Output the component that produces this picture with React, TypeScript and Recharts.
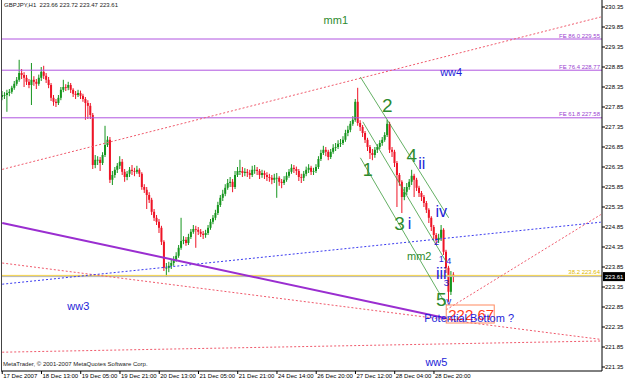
import React from "react";
import { ComposedChart, Bar, XAxis, YAxis, ReferenceLine, ReferenceDot } from "recharts";

// GBPJPY H1, 17-28 Dec 2007
const timeLabels = [
  "17 Dec 2007", "18 Dec 13:00", "19 Dec 05:00", "19 Dec 21:00", "20 Dec 13:00", "21 Dec 05:00",
  "21 Dec 21:00", "24 Dec 14:00", "26 Dec 20:00", "27 Dec 12:00", "28 Dec 04:00", "28 Dec 20:00",
];
const priceTicks = [
  221.35, 221.85, 222.35, 222.85, 223.35, 223.85, 224.35, 224.85, 225.35, 225.85,
  226.35, 226.85, 227.35, 227.85, 228.35, 228.85, 229.35, 229.85, 230.35,
];

const opens = [
  228.10, 228.15, 228.15, 228.20, 228.23, 228.33, 228.43, 228.53, 228.70, 228.65,
  228.58, 228.48, 228.40, 228.53, 228.48, 228.43, 228.58, 228.73, 228.63, 228.53,
  228.40, 228.08, 227.98, 227.95, 228.08, 228.28, 228.35, 228.33, 228.40, 228.28,
  228.18, 228.15, 228.20, 228.13, 228.05, 227.95, 227.88, 227.65, 226.40, 226.53,
  226.53, 226.45, 226.65, 226.90, 227.03, 226.03, 226.15, 226.28, 226.38, 226.48,
  226.23, 226.10, 226.18, 226.28, 226.25, 226.23, 226.28, 226.18, 225.85, 225.78,
  225.65, 225.53, 225.23, 225.08, 224.98, 224.83, 224.48, 223.83, 223.83, 223.88,
  223.95, 224.03, 224.13, 224.33, 224.50, 224.53, 224.45, 224.60, 224.73, 224.80,
  224.78, 224.73, 224.68, 224.65, 224.70, 224.83, 224.98, 225.08, 225.20, 225.40,
  225.58, 225.68, 225.83, 225.95, 225.98, 225.85, 226.15, 226.25, 226.25, 226.20,
  226.23, 226.20, 226.15, 226.28, 226.28, 226.25, 226.15, 226.20, 226.15, 226.10,
  226.08, 226.03, 226.08, 226.08, 225.98, 225.95, 226.03, 226.13, 226.23, 226.33,
  226.30, 226.25, 226.10, 226.08, 226.18, 226.28, 226.33, 226.23, 226.25, 226.35,
  226.55, 226.70, 226.78, 226.73, 226.60, 226.73, 226.83, 226.85, 226.93, 226.95,
  227.03, 227.20, 227.28, 227.43, 227.53, 227.98, 227.45, 227.35, 227.20, 227.03,
  226.85, 226.70, 226.65, 226.78, 226.85, 226.95, 227.03, 227.15, 227.43, 226.78,
  226.73, 226.45, 226.15, 225.98, 225.60, 225.73, 225.85, 225.98, 226.13, 226.03,
  225.83, 225.70, 225.60, 225.45, 225.28, 225.08, 224.85, 224.65, 224.53, 224.58,
  224.78, 224.23, 223.83, 223.23, 223.66,
];
const highs = [
  228.25, 228.22, 228.28, 228.30, 228.38, 228.50, 228.60, 229.03, 228.80, 228.72,
  228.65, 228.55, 228.95, 228.62, 228.55, 228.66, 228.85, 228.88, 228.70, 228.60,
  228.45, 228.15, 228.05, 228.15, 228.35, 228.53, 228.42, 228.48, 228.45, 228.32,
  228.25, 228.28, 228.26, 228.18, 228.10, 228.02, 227.95, 227.70, 226.65, 226.62,
  226.60, 226.72, 227.38, 227.12, 227.10, 226.25, 226.35, 226.45, 226.62, 226.55,
  226.30, 226.25, 226.35, 226.40, 226.33, 226.38, 226.32, 226.22, 225.92, 225.85,
  225.72, 225.58, 225.30, 225.15, 225.05, 224.88, 224.52, 223.95, 223.98, 224.05,
  224.12, 224.22, 224.40, 225.08, 224.62, 224.60, 224.68, 224.80, 224.90, 224.88,
  224.85, 224.80, 224.75, 224.78, 224.90, 225.05, 225.15, 225.28, 225.48, 225.65,
  225.78, 225.92, 226.05, 226.10, 226.05, 226.25, 226.35, 226.53, 226.35, 226.32,
  226.30, 226.28, 226.38, 226.40, 226.35, 226.30, 226.28, 226.26, 226.22, 226.18,
  226.15, 226.18, 226.20, 226.12, 226.05, 226.12, 226.22, 226.30, 226.42, 226.40,
  226.36, 226.30, 226.18, 226.25, 226.36, 226.42, 226.38, 226.33, 226.42, 226.62,
  226.78, 226.88, 226.85, 226.78, 226.80, 226.92, 226.95, 227.02, 227.05, 227.12,
  227.28, 227.38, 227.50, 227.62, 228.05, 228.33, 227.52, 227.40, 227.25, 227.08,
  226.90, 226.80, 226.85, 226.92, 227.02, 227.10, 227.22, 227.53, 227.48, 226.85,
  226.78, 226.50, 226.20, 226.02, 225.85, 225.95, 226.05, 226.28, 226.18, 226.08,
  225.88, 225.75, 225.65, 225.50, 225.32, 225.12, 224.90, 224.70, 224.68, 224.90,
  224.82, 224.28, 223.88, 223.75, 223.72,
];
const lows = [
  228.02, 228.05, 227.73, 228.12, 228.18, 228.28, 228.38, 228.48, 228.55, 228.35,
  228.40, 228.32, 227.90, 228.38, 228.30, 228.38, 228.50, 228.55, 228.45, 228.32,
  228.00, 227.88, 227.85, 227.90, 228.02, 228.22, 228.25, 228.27, 228.20, 228.10,
  228.05, 228.10, 228.05, 227.98, 227.53, 227.55, 227.55, 226.30, 226.32, 226.40,
  226.25, 226.40, 226.60, 226.85, 225.95, 225.90, 226.08, 226.20, 226.30, 226.15,
  225.98, 226.02, 226.10, 226.15, 226.12, 226.18, 226.10, 225.78, 225.70, 225.30,
  225.45, 225.15, 225.00, 224.90, 224.70, 224.40, 223.75, 223.60, 223.72, 223.80,
  223.88, 223.98, 224.08, 224.28, 224.42, 224.38, 224.40, 224.55, 224.68, 224.33,
  224.65, 224.60, 224.55, 224.58, 224.65, 224.78, 224.92, 225.02, 225.15, 225.35,
  225.50, 225.62, 225.78, 225.85, 225.72, 225.80, 226.10, 226.15, 226.10, 226.12,
  226.10, 226.05, 226.10, 226.18, 226.15, 226.05, 226.08, 226.05, 226.00, 225.98,
  225.92, 225.95, 225.58, 225.88, 225.82, 225.90, 225.98, 226.08, 226.18, 226.20,
  226.15, 226.00, 225.95, 226.00, 226.12, 226.20, 226.15, 226.15, 226.20, 226.30,
  226.50, 226.65, 226.62, 226.52, 226.55, 226.68, 226.75, 226.80, 226.85, 226.90,
  226.98, 227.12, 227.22, 227.38, 227.48, 227.38, 227.25, 227.10, 226.95, 226.75,
  226.55, 226.52, 226.58, 226.70, 226.80, 226.88, 226.98, 227.10, 226.70, 226.60,
  226.35, 225.35, 225.88, 225.20, 225.52, 225.65, 225.78, 225.90, 225.60, 225.75,
  225.60, 225.50, 225.35, 225.20, 224.95, 224.75, 224.55, 224.40, 224.45, 224.50,
  224.15, 223.70, 222.98, 223.15, 223.47,
];
const closes = [
  228.15, 228.15, 228.20, 228.23, 228.33, 228.43, 228.53, 228.70, 228.65, 228.58,
  228.48, 228.40, 228.53, 228.48, 228.43, 228.58, 228.73, 228.63, 228.53, 228.40,
  228.08, 227.98, 227.95, 228.08, 228.28, 228.35, 228.33, 228.40, 228.28, 228.18,
  228.15, 228.20, 228.13, 228.05, 227.95, 227.88, 227.65, 226.40, 226.53, 226.53,
  226.45, 226.65, 226.90, 227.03, 226.03, 226.15, 226.28, 226.38, 226.48, 226.23,
  226.10, 226.18, 226.28, 226.25, 226.23, 226.28, 226.18, 225.85, 225.78, 225.65,
  225.53, 225.23, 225.08, 224.98, 224.83, 224.48, 223.83, 223.83, 223.88, 223.95,
  224.03, 224.13, 224.33, 224.50, 224.53, 224.45, 224.60, 224.73, 224.80, 224.78,
  224.73, 224.68, 224.65, 224.70, 224.83, 224.98, 225.08, 225.20, 225.40, 225.58,
  225.68, 225.83, 225.95, 225.98, 225.85, 226.15, 226.25, 226.25, 226.20, 226.23,
  226.20, 226.15, 226.28, 226.28, 226.25, 226.15, 226.20, 226.15, 226.10, 226.08,
  226.03, 226.08, 226.08, 225.98, 225.95, 226.03, 226.13, 226.23, 226.33, 226.30,
  226.25, 226.10, 226.08, 226.18, 226.28, 226.33, 226.23, 226.25, 226.35, 226.55,
  226.70, 226.78, 226.73, 226.60, 226.73, 226.83, 226.85, 226.93, 226.95, 227.03,
  227.20, 227.28, 227.43, 227.53, 227.98, 227.45, 227.35, 227.20, 227.03, 226.85,
  226.70, 226.65, 226.78, 226.85, 226.95, 227.03, 227.15, 227.43, 226.78, 226.73,
  226.45, 226.15, 225.98, 225.60, 225.73, 225.85, 225.98, 226.13, 226.03, 225.83,
  225.70, 225.60, 225.45, 225.28, 225.08, 224.85, 224.65, 224.53, 224.58, 224.78,
  224.23, 223.83, 223.23, 223.65, 223.61,
];

// bar slots incl. the empty right margin of the chart
const SLOTS = 245;
const data = Array.from({ length: SLOTS }, (_, i) =>
  i < closes.length
    ? { i, o: opens[i], h: highs[i], l: lows[i], c: closes[i], range: [lows[i], highs[i]] }
    : { i }
);

const GREEN_TXT = "#2e8b2e";
const BLUE_TXT = "#1e1ed8";
const FONT = "'Liberation Sans', Arial, sans-serif";

function Candle(props: any) {
  const { x, y, width, height, payload } = props;
  if (!payload || payload.c == null || !isFinite(y) || !isFinite(height)) return null;
  const top = Math.min(y, y + height);
  const span = Math.abs(height);
  const k = span / (payload.h - payload.l || 1);
  const cx = x + width / 2;
  const up = payload.c >= payload.o;
  const col = up ? "#16951e" : "#ee1426";
  const bTop = top + (payload.h - Math.max(payload.o, payload.c)) * k;
  const bH = Math.max(Math.abs(payload.o - payload.c) * k, 0.8);
  return (
    <g>
      <line x1={cx} x2={cx} y1={top} y2={top + span} stroke={col} strokeWidth={1} />
      <rect x={cx - 1} y={bTop} width={2} height={bH} fill={col} />
    </g>
  );
}

const PriceTick = ({ x, y, payload }: any) => (
  <text x={x} y={y} dy={2} fontSize={6} fill="#000" fontFamily={FONT}>
    {Number(payload.value).toFixed(2)}
  </text>
);

const TimeTick = ({ x, y, payload }: any) => (
  <text x={x + 1} y={y} dy={4} fontSize={6} fill="#000" fontFamily={FONT}>
    {timeLabels[payload.value / 16]}
  </text>
);

const rightTag = (text: string, color: string) => (p: any) => {
  const vb = p.viewBox;
  return (
    <text x={vb.x + vb.width - 2} y={vb.y - 1.5} textAnchor="end" fontSize={6} fill={color} fontFamily={FONT}>
      {text}
    </text>
  );
};

const bidTag = (p: any) => {
  const vb = p.viewBox;
  return (
    <g>
      <rect x={vb.x + vb.width + 1} y={vb.y - 4.5} width={22} height={9} fill="#000" />
      <text x={vb.x + vb.width + 3} y={vb.y + 2} fontSize={6} fill="#fff" fontFamily={FONT}>223.61</text>
    </g>
  );
};

// trend / channel lines, ends as [bar index, price]
const redDots = [
  [[0, 226.29], [244, 230.1]],
  [[0, 223.95], [244, 222.04]],
  [[0, 221.72], [244, 222.0]],
  [[181, 222.78], [244, 225.16]],
];
const blueDots = [[[0, 223.42], [244, 224.97]]];
const greenLines = [
  [[146, 228.6], [182, 225.08]],
  [[147, 227.48], [181, 223.98]],
  [[146, 226.58], [181, 222.9]],
];

const notes = [
  { t: "mm1", i: 136, p: 230.03, c: GREEN_TXT, s: 11 },
  { t: "ww4", i: 183, p: 228.73, c: BLUE_TXT, s: 11 },
  { t: "2", i: 157, p: 227.9, c: GREEN_TXT, s: 19 },
  { t: "1", i: 149, p: 226.28, c: GREEN_TXT, s: 18 },
  { t: "4", i: 167, p: 226.63, c: GREEN_TXT, s: 19 },
  { t: "ii", i: 171, p: 226.45, c: BLUE_TXT, s: 16 },
  { t: "3", i: 162, p: 224.93, c: GREEN_TXT, s: 19 },
  { t: "i", i: 166, p: 224.93, c: BLUE_TXT, s: 16 },
  { t: "iv", i: 179, p: 225.23, c: BLUE_TXT, s: 16 },
  { t: "mm2", i: 170, p: 224.13, c: GREEN_TXT, s: 11 },
  { t: "iii", i: 179, p: 223.68, c: BLUE_TXT, s: 16 },
  { t: "2", i: 177, p: 224.48, c: BLUE_TXT, s: 9 },
  { t: "1", i: 179, p: 224.05, c: BLUE_TXT, s: 9 },
  { t: "4", i: 182, p: 224.0, c: BLUE_TXT, s: 9 },
  { t: "3", i: 181, p: 223.45, c: BLUE_TXT, s: 9 },
  { t: "5", i: 179, p: 223.05, c: GREEN_TXT, s: 19 },
  { t: "v", i: 182, p: 223.0, c: BLUE_TXT, s: 10 },
  { t: "ww3", i: 31, p: 222.88, c: BLUE_TXT, s: 11 },
  { t: "ww5", i: 177, p: 221.48, c: BLUE_TXT, s: 11 },
];

const seg = (s: number[][]) => s.map(([x, y]) => ({ x, y }));

export default function App() {
  return (
    <div style={{ position: "fixed", left: 0, top: 0, width: 625, height: 380, background: "#fff", fontFamily: FONT }}>
      <ComposedChart width={625} height={380} data={data} margin={{ top: 0, right: 0, bottom: 0, left: 1 }} barCategoryGap={0}>
        <XAxis
          dataKey="i"
          height={9}
          ticks={[0, 16, 32, 48, 64, 80, 96, 112, 128, 144, 160, 176]}
          interval={0}
          tick={<TimeTick />}
          tickSize={3}
          tickMargin={0}
          axisLine={{ stroke: "#000" }}
          tickLine={{ stroke: "#000" }}
        />
        <YAxis
          orientation="right"
          width={23}
          type="number"
          domain={[221.25, 230.525]}
          allowDataOverflow
          ticks={priceTicks}
          interval={0}
          tick={<PriceTick />}
          tickSize={3}
          tickMargin={0}
          axisLine={{ stroke: "#000" }}
          tickLine={{ stroke: "#000" }}
        />

        <ReferenceLine y={229.55} stroke="#b054e0" strokeWidth={1} label={rightTag("FE 86.0  229.55", "#9a3fd0")} />
        <ReferenceLine y={228.77} stroke="#b054e0" strokeWidth={1} label={rightTag("FE 76.4  228.77", "#9a3fd0")} />
        <ReferenceLine y={227.58} stroke="#b054e0" strokeWidth={1} label={rightTag("FE 61.8  227.58", "#9a3fd0")} />
        <ReferenceLine y={223.64} stroke="#f2d24a" strokeWidth={1} label={rightTag("38.2  223.64", "#e0b800")} />
        <ReferenceLine y={223.61} stroke="#b4b4b4" strokeWidth={1} label={bidTag} />

        {redDots.map((s, k) => (
          <ReferenceLine key={"r" + k} segment={seg(s)} stroke="#f05a6c" strokeDasharray="2 2" ifOverflow="hidden" />
        ))}
        {blueDots.map((s, k) => (
          <ReferenceLine key={"b" + k} segment={seg(s)} stroke="#3a3af0" strokeDasharray="2 2" ifOverflow="hidden" />
        ))}
        <ReferenceLine segment={seg([[0, 224.95], [181, 222.57]])} stroke="#9a2ed0" strokeWidth={2} ifOverflow="hidden" />
        {greenLines.map((s, k) => (
          <ReferenceLine key={"g" + k} segment={seg(s)} stroke="#3c9c3c" strokeWidth={0.8} ifOverflow="hidden" />
        ))}

        <Bar dataKey="range" shape={<Candle />} isAnimationActive={false} />

        {notes.map((n, k) => (
          <ReferenceDot
            key={"n" + k}
            x={n.i}
            y={n.p}
            r={0}
            ifOverflow="visible"
            shape={(p: any) => (
              <text x={p.cx} y={p.cy} textAnchor="middle" dominantBaseline="central" fontSize={n.s} fill={n.c} fontFamily={FONT}>
                {n.t}
              </text>
            )}
          />
        ))}
        <ReferenceDot
          x={181}
          y={222.9}
          r={0}
          ifOverflow="visible"
          shape={(p: any) => (
            <g>
              <rect x={p.cx} y={p.cy} width={48} height={18} fill="none" stroke="#ff8a60" strokeWidth={1} />
              <text x={p.cx + 2} y={p.cy + 15} fontSize={15} fill="#ff3a1a" fontFamily={FONT}>222.67</text>
            </g>
          )}
        />
        <ReferenceDot
          x={172}
          y={222.58}
          r={0}
          ifOverflow="visible"
          shape={(p: any) => (
            <text x={p.cx} y={p.cy} dominantBaseline="central" fontSize={11} fill={BLUE_TXT} fontFamily={FONT}>
              Potential Bottom  ?
            </text>
          )}
        />
      </ComposedChart>
      <div style={{ position: "absolute", left: 1, top: 0, width: 1, height: 371, background: "#444" }} />
      <div style={{ position: "absolute", left: 4, top: 2, fontSize: 6, color: "#222", whiteSpace: "pre" }}>
        GBPJPY,H1  223.66 223.72 223.47 223.61
      </div>
      <div style={{ position: "absolute", left: 3, top: 361, fontSize: 6, color: "#222", whiteSpace: "pre" }}>
        MetaTrader, © 2001-2007 MetaQuotes Software Corp.
      </div>
    </div>
  );
}
